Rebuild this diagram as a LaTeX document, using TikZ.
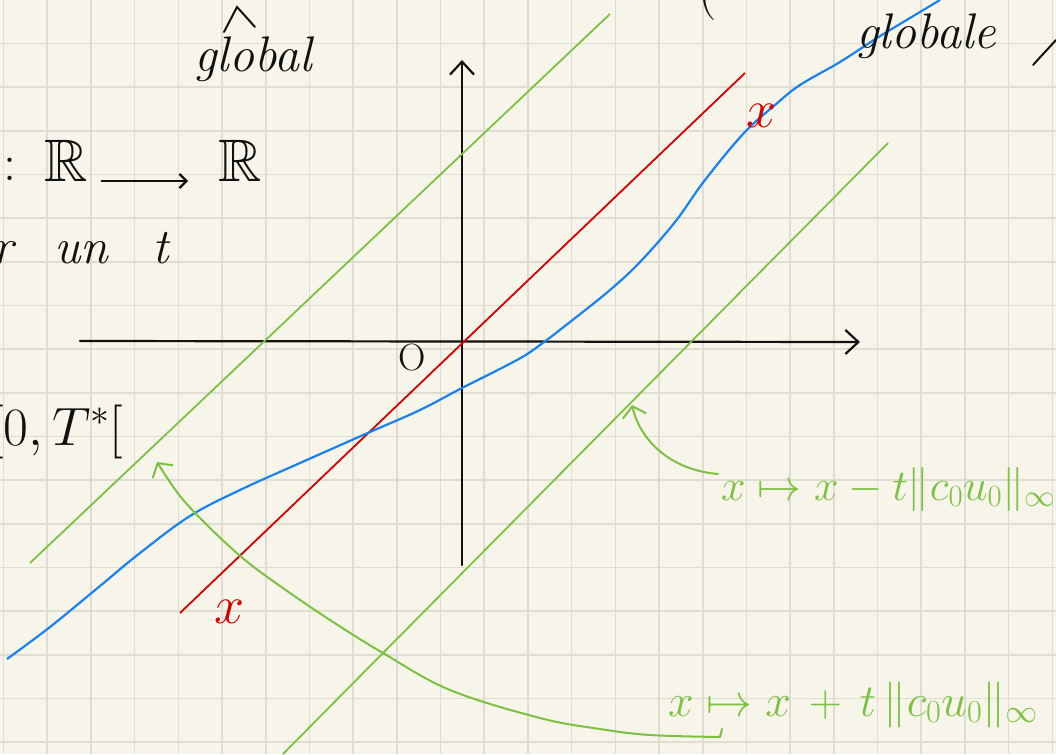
\RequirePackage{fix-cm}
\documentclass[tikz,border=0pt]{standalone}
\usepackage{amssymb}
\usepackage{fontspec}
\usetikzlibrary{arrows.meta,calc}
\definecolor{paper}{HTML}{F7F5EA}
\definecolor{gridc}{HTML}{DFDDD1}
\definecolor{ink}{HTML}{111111}
\definecolor{redink}{HTML}{D50000}
\definecolor{blueink}{HTML}{1A82F0}
\definecolor{greenink}{HTML}{7CC142}
\begin{document}
\begin{tikzpicture}[x=1pt,y=-1pt,
  gridline/.style={gridc,line width=1.6pt},
  axisline/.style={ink,line width=2.2pt,line cap=round,
    -{Straight Barb[length=13pt,width=24pt,line width=2.2pt]}},
  redline/.style={redink,line width=1.8pt},
  greenline/.style={greenink,line width=1.8pt},
  blueline/.style={blueink,line width=2.2pt},
  greenarrow/.style={greenink,line width=2pt,line cap=round,
    -{Straight Barb[length=10pt,width=24pt,line width=2pt]}},
  hand/.style={ink,inner sep=0pt,font=\fontsize{50}{54}\selectfont\itshape},
  mathhand/.style={ink,inner sep=0pt,font=\fontsize{52}{56}\selectfont},
  redlabel/.style={redink,inner sep=0pt,font=\fontsize{54}{56}\selectfont},
  greenlabel/.style={greenink,inner sep=0pt,anchor=base west,font=\fontsize{44}{48}\selectfont}
]
\useasboundingbox (0,0) rectangle (1056,754);
\fill[paper] (0,0) rectangle (1056,754);
% grid
\foreach \k in {0,...,24} \draw[gridline] ({3.5+43.7*\k},0) -- ({3.5+43.7*\k},754);
\foreach \k in {1,...,17} \draw[gridline] (0,{43.65*\k}) -- (1056,{43.65*\k});

% axes
\coordinate (xstart) at (80,341);
\coordinate (xend) at (860,342);
\coordinate (ystart) at (462,565);
\coordinate (yend) at (462,60);
\draw[axisline] (xstart) -- (xend);
\draw[axisline] (ystart) -- (yend);
\node[ink,inner sep=0pt,font=\fontsize{38}{38}\selectfont] (O) at (412,358) {O};

% lines
\coordinate (r1) at (180,613);
\coordinate (r2) at (745,73);
\draw[redline] (r1) -- (r2);
\coordinate (g1a) at (30,563);
\coordinate (g1b) at (610,14);
\draw[greenline] (g1a) -- (g1b);
\coordinate (g2a) at (283,754);
\coordinate (g2b) at (888,143);
\draw[greenline] (g2a) -- (g2b);

% blue curve
\draw[blueline] plot[smooth,tension=0.6] coordinates {
  (7,659) (50,627) (100,586) (140,553) (190,516) (240,490) (300,463)
  (370,432) (420,410) (462,388) (517,360) (540,345) (570,322) (610,290)
  (640,262) (675,222) (705,180) (744,133) (775,105) (800,85) (840,62)
  (877,38) (910,18) (940,0)};

% red labels
\node[redlabel] (xa) at (230,612) {$x$};
\node[redlabel] (xb) at (762,116) {$x$};

% green arrows
\coordinate (a1s) at (718,474);
\coordinate (a1t) at (632,405);
\draw[greenarrow] (a1s) .. controls (670,470) and (640,440) .. (a1t);
\draw[greenink,line width=2pt,line cap=round] (722,729) -- (720,737);
\coordinate (a2s) at (720,737);
\coordinate (a2t) at (157,462);
\draw[greenarrow] plot[smooth,tension=0.6] coordinates {
  (720,737) (650,735) (600,729) (540,718) (450,690) (383,653) (330,620)
  (280,586) (245,560) (210,528) (180,496) (157,462)};

% green labels
\node[greenlabel] (f1) at (721,500) {$x\mapsto x-t\|c_0u_0\|_{\infty}$};
\node[greenlabel,font=\fontsize{46}{50}\selectfont] (f2) at (668,716) {$x\mapsto x\,+\,t\,\|c_0u_0\|_{\infty}$};

% black text
\draw[ink,line width=2pt,line cap=round] (224,32) -- (237,7) -- (255,27);
\node[hand,anchor=base west] (glob) at (194,72) {global};
\node[hand,anchor=base west] (globe) at (856,49) {globale};
\draw[ink,line width=2pt,line cap=round] (1033,65) -- (1056,40);
\node[mathhand,anchor=base west] (paren) at (698,8) {(};
\node[mathhand,anchor=base west] (colon) at (3,180) {:};
\node[mathhand,anchor=base west,font=\fontsize{60}{60}\selectfont] (R1) at (44,181) {$\mathbb{R}$};
\node[mathhand,anchor=base west,font=\fontsize{60}{60}\selectfont] (R2) at (218,181) {$\mathbb{R}$};
\coordinate (arrS) at ($(R1.base east)+(14,0)$);
\coordinate (arrE) at ($(R2.base west)+(-30,0)$);
\draw[ink,line width=2.2pt,line cap=round,-{Straight Barb[length=7pt,width=14pt]}] (arrS) -- (arrE);
\node[hand,anchor=base west] (r) at (-8,263) {r};
\node[hand,anchor=base west] (un) at (54,263) {un};
\node[hand,anchor=base west] (t) at (152,263) {t};
\node[mathhand,anchor=base west,font=\fontsize{54}{54}\selectfont] (int) at (-10,445) {$[0,T^*[$};
\end{tikzpicture}
\end{document}
